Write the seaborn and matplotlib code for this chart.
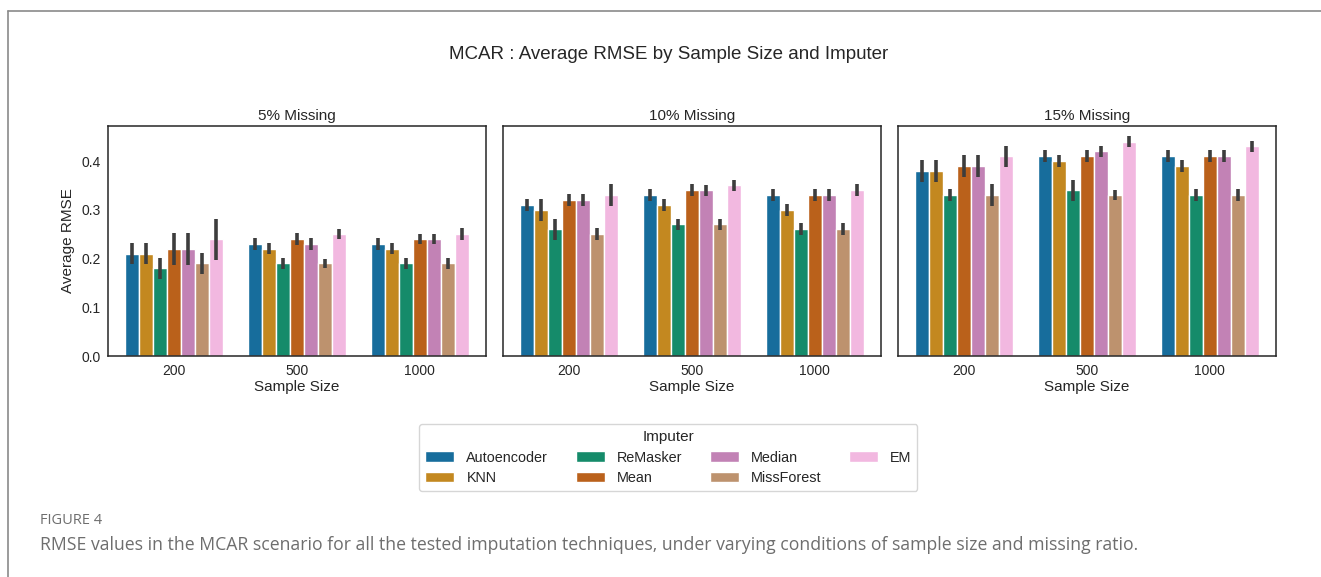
import numpy as np
import pandas as pd
import matplotlib.pyplot as plt
from matplotlib.lines import Line2D
import seaborn as sns

# values
imputers = ["Autoencoder", "KNN", "ReMasker", "Mean", "Median", "MissForest", "EM"]
sample_sizes = [200, 500, 1000]
missing_labels = ["5% Missing", "10% Missing", "15% Missing"]

# mean RMSE, one row per sample size, columns follow `imputers`
rmse_5 = [[0.21, 0.21, 0.18, 0.22, 0.22, 0.19, 0.24],
          [0.23, 0.22, 0.19, 0.24, 0.23, 0.19, 0.25],
          [0.23, 0.22, 0.19, 0.24, 0.24, 0.19, 0.25]]
rmse_10 = [[0.31, 0.30, 0.26, 0.32, 0.32, 0.25, 0.33],
           [0.33, 0.31, 0.27, 0.34, 0.34, 0.27, 0.35],
           [0.33, 0.30, 0.26, 0.33, 0.33, 0.26, 0.34]]
rmse_15 = [[0.38, 0.38, 0.33, 0.39, 0.39, 0.33, 0.41],
           [0.41, 0.40, 0.34, 0.41, 0.42, 0.33, 0.44],
           [0.41, 0.39, 0.33, 0.41, 0.41, 0.33, 0.43]]

# half-width of the confidence interval
ci_5 = [[0.021, 0.021, 0.021, 0.033, 0.033, 0.022, 0.042],
        [0.012, 0.011, 0.011, 0.012, 0.012, 0.010, 0.010],
        [0.012, 0.011, 0.011, 0.011, 0.011, 0.011, 0.012]]
ci_10 = [[0.012, 0.022, 0.022, 0.012, 0.012, 0.012, 0.022],
         [0.012, 0.012, 0.012, 0.012, 0.011, 0.012, 0.012],
         [0.012, 0.012, 0.012, 0.012, 0.012, 0.012, 0.012]]
ci_15 = [[0.022, 0.022, 0.012, 0.022, 0.022, 0.022, 0.022],
         [0.012, 0.012, 0.022, 0.012, 0.012, 0.010, 0.012],
         [0.012, 0.012, 0.012, 0.012, 0.012, 0.012, 0.012]]

sns.set_style("white")
plt.rcParams['font.family'] = ['Liberation Sans', 'DejaVu Sans']
palette = sns.color_palette("colorblind", len(imputers))

fig = plt.figure(figsize=(13.21, 5.77), dpi=100)
lefts = [0.0818, 0.3808, 0.6798]
axes = []
for i, (label, vals, errs) in enumerate(zip(missing_labels, [rmse_5, rmse_10, rmse_15],
                                           [ci_5, ci_10, ci_15])):
    ax = fig.add_axes([lefts[i], 0.383, 0.286, 0.3986])
    df = pd.DataFrame([(s, imp, vals[r][c], errs[r][c])
                       for r, s in enumerate(sample_sizes)
                       for c, imp in enumerate(imputers)],
                      columns=["Sample Size", "Imputer", "RMSE", "CI"])
    sns.barplot(data=df, x="Sample Size", y="RMSE", hue="Imputer",
                order=sample_sizes, hue_order=imputers, palette=palette,
                errorbar=None, ax=ax, legend=(i == 0))
    # error bars drawn at the bar centres
    for imp, cont in zip(imputers, ax.containers):
        sub = df[df["Imputer"] == imp]
        xs = [b.get_x() + b.get_width() / 2 for b in cont]
        ax.errorbar(xs, sub["RMSE"].values, yerr=sub["CI"].values, fmt="none",
                    ecolor="#3d3d3d", elinewidth=2.6, capsize=0, zorder=3)
    ax.set_ylim(0, 0.472)
    ax.set_title(label, fontsize=11, pad=4)
    ax.set_xlabel("Sample Size", fontsize=11, labelpad=2)
    ax.tick_params(labelsize=10, pad=2)
    for sp in ax.spines.values():
        sp.set_color("#262626")
        sp.set_linewidth(1.1)
    ax.set_yticks([0.0, 0.1, 0.2, 0.3, 0.4])
    if i == 0:
        ax.set_ylabel("Average RMSE", fontsize=11)
    else:
        ax.set_ylabel("")
        ax.set_yticklabels([])
    axes.append(ax)

handles, labels = axes[0].get_legend_handles_labels()
axes[0].get_legend().remove()
fig.legend(handles, labels, title="Imputer", ncol=4, loc="center",
           bbox_to_anchor=(0.506, 0.207), fontsize=10.4, title_fontsize=11,
           frameon=True, handlelength=2.0, columnspacing=1.9,
           handletextpad=0.85, borderpad=0.4, labelspacing=0.45)

fig.suptitle("MCAR : Average RMSE by Sample Size and Imputer", fontsize=13.5,
             x=0.506, y=0.92)

# page frame and caption
fig.add_artist(Line2D([8 / 1321, 1], [1 - 11 / 577, 1 - 11 / 577], color="#8a8a8a", lw=1.2))
fig.add_artist(Line2D([8 / 1321, 8 / 1321], [0, 1 - 11 / 577], color="#8a8a8a", lw=1.2))
fig.text(40 / 1321, 1 - 521 / 577, "FIGURE 4", fontsize=10.5, color="#6e6e6e",
         family=["Open Sans", "DejaVu Sans"], va="center")
fig.text(40 / 1321, 1 - 545 / 577,
         "RMSE values in the MCAR scenario for all the tested imputation techniques, "
         "under varying conditions of sample size and missing ratio.",
         fontsize=12.7, color="#6e6e6e", family=["Open Sans", "DejaVu Sans"], va="center")

fig.savefig("out.png", dpi=100)
